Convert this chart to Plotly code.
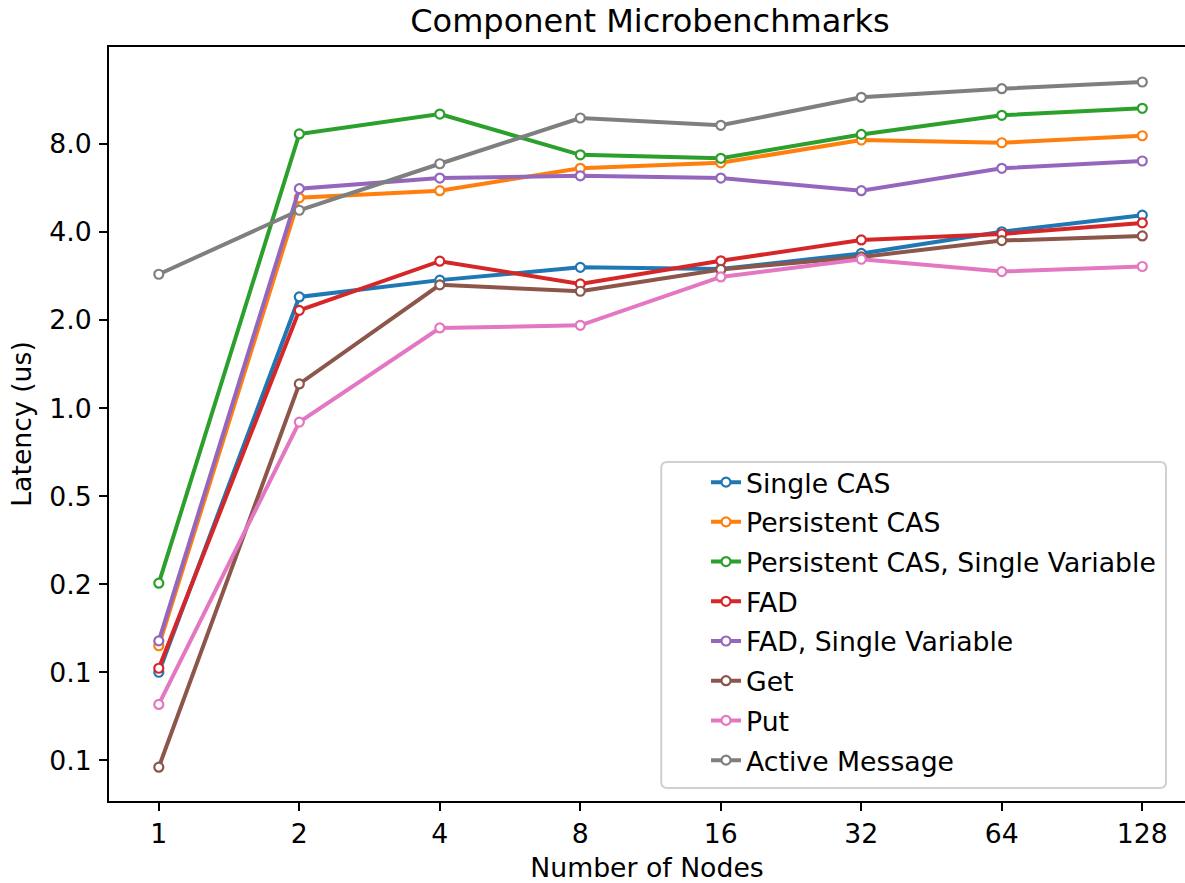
import plotly.graph_objects as go

nodes = [1, 2, 4, 8, 16, 32, 64, 128]

single_cas = [0.125, 2.40, 2.74, 3.03, 2.99, 3.38, 4.01, 4.57]
persistent_cas = [0.154, 5.24, 5.54, 6.61, 6.90, 8.26, 8.08, 8.54]
persistent_cas_sv = [0.252, 8.66, 10.13, 7.35, 7.15, 8.63, 10.03, 10.60]
fad = [0.129, 2.16, 3.18, 2.66, 3.19, 3.76, 3.94, 4.30]
fad_sv = [0.160, 5.63, 6.12, 6.23, 6.12, 5.54, 6.61, 7.00]
get_vals = [0.0592, 1.21, 2.64, 2.51, 2.98, 3.29, 3.74, 3.88]
put_vals = [0.097, 0.896, 1.88, 1.92, 2.81, 3.23, 2.93, 3.05]
active_msg = [2.87, 4.75, 6.85, 9.82, 9.27, 11.56, 12.37, 13.04]

series_names = ["Single CAS", "Persistent CAS", "Persistent CAS, Single Variable",
                "FAD", "FAD, Single Variable", "Get", "Put", "Active Message"]
series_values = [single_cas, persistent_cas, persistent_cas_sv, fad, fad_sv,
                 get_vals, put_vals, active_msg]
colors = ["#1f77b4", "#ff7f0e", "#2ca02c", "#d62728", "#9467bd",
          "#8c564b", "#e377c2", "#7f7f7f"]

y_tickvals = [0.0625, 0.125, 0.25, 0.5, 1, 2, 4, 8]
y_ticktext = ["0.1", "0.1", "0.2", "0.5", "1.0", "2.0", "4.0", "8.0"]
x_ticktext = ["1", "2", "4", "8", "16", "32", "64", "128"]

FONT = "DejaVu Sans"
FS = 26.7

fig = go.Figure()
for i, (name, vals, col) in enumerate(zip(series_names, series_values, colors)):
    fig.add_trace(go.Scatter(
        x=nodes, y=vals, name=name, mode="lines+markers",
        legendgroup=f"g{i}",
        line=dict(color=col, width=4),
        marker=dict(symbol="circle", size=9, color="white",
                    line=dict(color=col, width=2.2)),
    ))

W, H = 1185, 883
L, T, B, R = 108.5, 47, 82, 0
pw = W - L - R
ph = H - T - B

# legend frame (rounded box) in paper coordinates
bx0, bx1 = (661 - L) / pw, (1166 - L) / pw
by0, by1 = (800.7 - 787.7) / ph, (800.7 - 461.7) / ph
rx, ry = 6 / pw, 6 / ph
frame_path = (
    f"M {bx0 + rx} {by0} L {bx1 - rx} {by0} Q {bx1} {by0} {bx1} {by0 + ry} "
    f"L {bx1} {by1 - ry} Q {bx1} {by1} {bx1 - rx} {by1} "
    f"L {bx0 + rx} {by1} Q {bx0} {by1} {bx0} {by1 - ry} "
    f"L {bx0} {by0 + ry} Q {bx0} {by0} {bx0 + rx} {by0} Z"
)

fig.update_layout(
    width=W, height=H,
    margin=dict(l=L, r=R, t=T, b=B, pad=0),
    paper_bgcolor="white", plot_bgcolor="white",
    font=dict(family=FONT, size=FS, color="black"),
    title=dict(text="Component Microbenchmarks", font=dict(family=FONT, size=32, color="black"),
               xref="paper", x=(649.7 - L) / pw, xanchor="center",
               yref="container", y=1 - 21 / H, yanchor="middle"),
    showlegend=True,
    legend=dict(
        x=(1161 - L) / pw, xanchor="right",
        y=(800.7 - 784) / ph, yanchor="bottom",
        bgcolor="rgba(0,0,0,0)", borderwidth=0,
        font=dict(family=FONT, size=FS, color="black"),
        tracegroupgap=2,
    ),
    shapes=[dict(type="path", path=frame_path, xref="paper", yref="paper",
                 layer="above", fillcolor="rgba(255,255,255,0.8)",
                 line=dict(color="#d0d0d0", width=2))],
    xaxis=dict(
        type="log",
        range=[-0.1067, 2.1987],
        tickvals=nodes, ticktext=x_ticktext,
        showline=True, linecolor="black", linewidth=2, mirror=True,
        ticks="outside", ticklen=8, tickwidth=2, tickcolor="black",
        showgrid=False, zeroline=False,
        tickfont=dict(family=FONT, size=FS, color="black"),
        title=dict(text="Number of Nodes", font=dict(family=FONT, size=FS, color="black"), standoff=11),
    ),
    yaxis=dict(
        type="log",
        range=[-1.3433, 1.2349],
        tickvals=y_tickvals, ticktext=y_ticktext,
        showline=True, linecolor="black", linewidth=2, mirror=False,
        ticks="outside", ticklen=8, tickwidth=2, tickcolor="black",
        ticklabelstandoff=2,
        showgrid=False, zeroline=False,
        tickfont=dict(family=FONT, size=FS, color="black"),
        title=dict(text="Latency (us)", font=dict(family=FONT, size=FS, color="black"), standoff=10),
    ),
)

fig.write_html("out.html")
